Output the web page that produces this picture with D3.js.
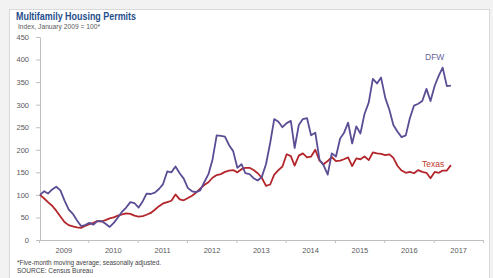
<!DOCTYPE html>
<html><head><meta charset="utf-8">
<script src="https://cdn.jsdelivr.net/npm/d3@7"></script>
<style>
html,body{margin:0;padding:0;background:#f2f2f2;}
svg{display:block;font-family:"Liberation Sans",Arial,sans-serif;}
</style></head>
<body>
<svg id="chart" width="493" height="278"></svg>
<script>
// Monthly index values, Jan 2009 .. May 2017 (Jan 2009 = 100)
const startYear = 2009;
const dfw = [100,108,103,112,118,110,88,68,58,44,31,33,38,34,42,42,36,29,38,50,63,72,84,82,72,86,103,102,105,113,124,152,150,163,148,136,115,108,106,110,128,146,178,232,231,229,210,197,160,168,148,146,137,132,140,168,215,268,262,250,259,264,204,255,268,270,232,238,178,166,145,192,185,225,237,260,214,252,236,280,305,357,347,360,315,288,255,240,228,232,270,298,302,308,335,308,342,365,382,341,342];
const texas = [100,92,84,76,65,52,40,33,30,28,27,31,35,38,42,41,44,48,50,54,57,59,58,54,52,53,56,60,67,75,81,84,87,101,90,88,93,98,105,114,122,128,138,144,146,151,154,155,150,157,160,160,155,148,138,120,123,145,155,163,190,186,165,187,192,183,185,200,176,168,175,184,175,176,179,183,164,181,179,185,177,194,192,191,188,190,182,164,154,149,151,148,155,151,149,137,151,149,154,154,166];
const years = [2009,2010,2011,2012,2013,2014,2015,2016,2017];
const yTicks = [0,50,100,150,200,250,300,350,400,450];
const seriesNames = ["DFW","Texas"];
const title = "Multifamily Housing Permits";
const subtitle = "Index, January 2009 = 100*";
const note1 = "*Five-month moving average; seasonally adjusted.";
const note2 = "SOURCE: Census Bureau";

const svg = d3.select("#chart");
const mLeft = 39, mRight = 483, mTop = 37, mBottom = 240;

svg.append("rect").attr("x",9.5).attr("y",9.5).attr("width",480).attr("height",280)
  .attr("fill","#fff").attr("stroke","#d9d9d9");

const x = d3.scaleTime()
  .domain([new Date(startYear,0,1), new Date(years[years.length-1]+1,0,1)])
  .range([mLeft,mRight]);
const y = d3.scaleLinear().domain([0,450]).range([mBottom,mTop]);

const dateOf = i => new Date(startYear, i, 1);

// axes
const gx = svg.append("g").attr("transform",`translate(0,${mBottom})`);
gx.call(d3.axisBottom(x).tickValues(years.concat([years[years.length-1]+1]).map(yy=>new Date(yy,0,1))).tickSize(3).tickFormat(""));
gx.selectAll(".domain").attr("stroke","#bfbfbf");
gx.selectAll("line").attr("stroke","#bfbfbf");
const gxl = svg.append("g").attr("transform",`translate(0,${mBottom})`);
gxl.call(d3.axisBottom(x).tickValues(years.map(yy=>new Date(yy,6,1))).tickSize(0).tickPadding(8).tickFormat(d=>d.getFullYear()));
gxl.select(".domain").remove();
gxl.selectAll("text").attr("fill","#595959").attr("font-size","7.5px").attr("font-family","Liberation Sans, Arial, sans-serif");

const gy = svg.append("g").attr("transform",`translate(${mLeft+1},0)`);
gy.call(d3.axisLeft(y).tickValues(yTicks).tickSize(4).tickPadding(7).tickSizeOuter(0));
gy.select(".domain").attr("stroke","#bfbfbf");
gy.selectAll("line").attr("stroke","#bfbfbf");
gy.selectAll("text").attr("fill","#595959").attr("font-size","7.5px").attr("font-family","Liberation Sans, Arial, sans-serif");

const line = d3.line().x((d,i)=>x(dateOf(i))+1).y(d=>y(d));
svg.append("path").datum(texas).attr("d",line).attr("fill","none")
  .attr("stroke","#b3262b").attr("stroke-width",1.8).attr("stroke-linejoin","round");
svg.append("path").datum(dfw).attr("d",line).attr("fill","none")
  .attr("stroke","#5b4c94").attr("stroke-width",1.8).attr("stroke-linejoin","round");

svg.append("text").attr("x",425).attr("y",60).attr("fill","#6a5fa0").attr("font-size","8.5px").text(seriesNames[0]);
svg.append("text").attr("x",422).attr("y",167).attr("fill","#c0392b").attr("font-size","8.5px").text(seriesNames[1]);

svg.append("text").attr("x",16).attr("y",20).attr("fill","#1f4e8c").attr("font-size","10px").attr("font-weight","bold")
  .attr("textLength",120).attr("lengthAdjust","spacingAndGlyphs").text(title);
svg.append("text").attr("x",18).attr("y",29).attr("fill","#595959").attr("font-size","6.3px")
  .attr("textLength",82).attr("lengthAdjust","spacingAndGlyphs").text(subtitle);
svg.append("text").attr("x",17).attr("y",265).attr("fill","#404040").attr("font-size","6.3px")
  .attr("textLength",144).attr("lengthAdjust","spacingAndGlyphs").text(note1);
svg.append("text").attr("x",17).attr("y",272.5).attr("fill","#404040").attr("font-size","6.3px")
  .attr("textLength",76).attr("lengthAdjust","spacingAndGlyphs").text(note2);
</script>
</body></html>
